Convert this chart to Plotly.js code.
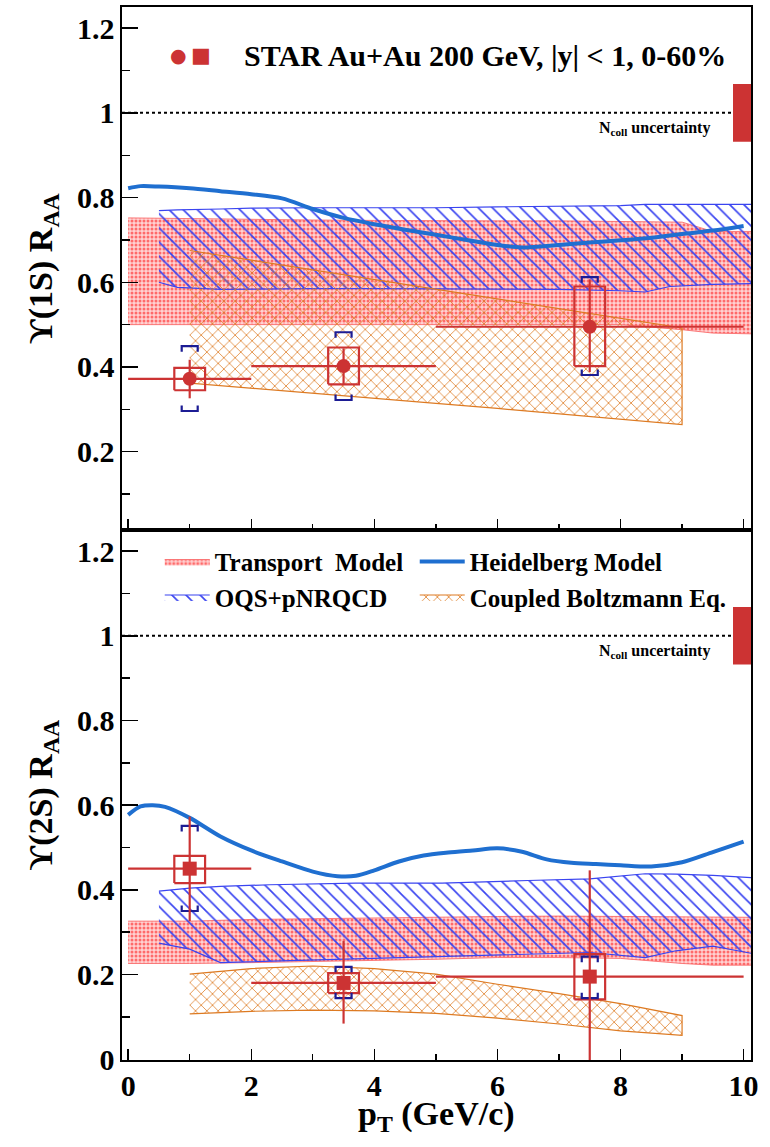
<!DOCTYPE html>
<html><head><meta charset="utf-8">
<script src="https://cdn.plot.ly/plotly-3.0.1.min.js"></script>
<style>html,body{margin:0;padding:0;background:#fff}</style>
</head><body><div id="chart" style="width:770px;height:1147px"></div>
<script>
// ---------------- data ----------------
const pT = [1, 3.5, 7.5];
const pTHalfBin = [1, 1.5, 2.5];

// Upsilon(1S)
const raa1S = [0.372, 0.402, 0.495];
const stat1SUp = [0.045, 0.042, 0.112];
const stat1SDown = [0.046, 0.042, 0.107];
const sys1SLow = [0.345, 0.359, 0.402];
const sys1SHigh = [0.398, 0.446, 0.590];
const glob1SLow = [0.296, 0.322, 0.381];
const glob1SHigh = [0.449, 0.482, 0.612];

// Upsilon(2S)
const raa2S = [0.450, 0.180, 0.195];
const stat2SUp = [0.123, 0.099, 0.251];
const stat2SDown = [0.124, 0.096, 0.250];
const sys2SLow = [0.416, 0.156, 0.141];
const sys2SHigh = [0.480, 0.203, 0.248];
const glob2SLow = [0.350, 0.144, 0.144];
const glob2SHigh = [0.551, 0.218, 0.242];

const nCollUnc = [0.068];
const unity = [1];

// Transport model bands
const trX = [0, 1, 2, 3, 4, 5, 6, 7, 8, 9, 9.5, 10.2];
const tr1SHigh = [0.752, 0.750, 0.748, 0.747, 0.746, 0.745, 0.745, 0.745, 0.744, 0.742, 0.720, 0.720];
const tr1SLow  = [0.500, 0.500, 0.500, 0.500, 0.500, 0.500, 0.500, 0.500, 0.500, 0.488, 0.480, 0.478];
const tr2SHigh = [0.326, 0.326, 0.330, 0.332, 0.333, 0.335, 0.337, 0.338, 0.337, 0.335, 0.335, 0.335];
const tr2SLow  = [0.226, 0.226, 0.228, 0.230, 0.233, 0.236, 0.240, 0.240, 0.238, 0.226, 0.222, 0.222];

// OQS+pNRQCD bands
const oqs1SX = [0.5, 0.8, 1.5, 2, 3, 4, 5, 6, 7, 8, 8.4, 8.8, 9.5, 10.2];
const oqs1SHigh = [0.769, 0.771, 0.773, 0.775, 0.776, 0.776, 0.776, 0.778, 0.779, 0.781, 0.784, 0.784, 0.784, 0.784];
const oqs1SLow  = [0.600, 0.588, 0.583, 0.584, 0.585, 0.585, 0.585, 0.584, 0.583, 0.580, 0.577, 0.590, 0.595, 0.597];
const oqs2SX = [0.5, 1, 1.5, 2.3, 3.7, 5.1, 6.5, 7.5, 8.4, 8.9, 9.5, 10.2];
const oqs2SHigh = [0.397, 0.404, 0.408, 0.412, 0.416, 0.416, 0.422, 0.426, 0.438, 0.437, 0.434, 0.428];
const oqs2SLow  = [0.274, 0.260, 0.228, 0.232, 0.238, 0.242, 0.248, 0.252, 0.240, 0.256, 0.267, 0.248];

// Coupled Boltzmann bands
const cbX = [1, 2, 3, 4, 5, 6, 7, 8, 9];
const cb1SHigh = [0.675, 0.652, 0.630, 0.607, 0.584, 0.561, 0.538, 0.515, 0.492];
const cb1SLow  = [0.362, 0.350, 0.338, 0.326, 0.314, 0.302, 0.290, 0.277, 0.264];
const cb2SHigh = [0.201, 0.214, 0.220, 0.214, 0.201, 0.177, 0.155, 0.131, 0.103];
const cb2SLow  = [0.107, 0.113, 0.116, 0.114, 0.108, 0.097, 0.083, 0.067, 0.056];

// Heidelberg model
const heid1SX = [0, 0.2, 0.5, 1, 1.5, 2, 2.5, 3, 3.5, 4, 4.5, 5, 5.5, 6, 6.4, 7, 7.5, 8, 8.5, 9, 9.5, 10];
const heid1S  = [0.822, 0.827, 0.826, 0.822, 0.815, 0.808, 0.798, 0.773, 0.752, 0.737, 0.724, 0.712, 0.700, 0.688, 0.682, 0.688, 0.694, 0.699, 0.705, 0.714, 0.722, 0.733];
const heid2SX = [0, 0.2, 0.4, 0.6, 1, 1.5, 2, 2.5, 3, 3.4, 3.7, 4, 4.4, 4.8, 5.2, 5.6, 6, 6.4, 6.8, 7.2, 7.6, 8, 8.5, 9, 9.5, 10];
const heid2S  = [0.577, 0.597, 0.600, 0.596, 0.570, 0.526, 0.493, 0.467, 0.443, 0.432, 0.433, 0.446, 0.467, 0.481, 0.488, 0.493, 0.498, 0.490, 0.472, 0.464, 0.461, 0.458, 0.455, 0.465, 0.489, 0.514];

// ---------------- styling ----------------
const FONT = 'Liberation Serif';
const RED = '#cc3333';
const NAVY = '#1c1c94';
const BLUE = '#1f6fd0';
const HATCHBLUE = '#3a44f0';
const ORANGE = '#dd7a22';
const boxHalf = 0.25, brHalf = 0.13, brLeg = 0.013;

function band(xs, hi, lo) {
  return { x: xs.concat(xs.slice().reverse()), y: hi.concat(lo.slice().reverse()) };
}
function boxes(lo, hi) {
  const x = [], y = [];
  pT.forEach((p, i) => {
    x.push(p - boxHalf, p + boxHalf, p + boxHalf, p - boxHalf, p - boxHalf, null);
    y.push(lo[i], lo[i], hi[i], hi[i], lo[i], null);
  });
  return { x, y };
}
function brackets(lo, hi) {
  const x = [], y = [];
  pT.forEach((p, i) => {
    x.push(p - brHalf, p - brHalf, p + brHalf, p + brHalf, null);
    y.push(hi[i] - brLeg, hi[i], hi[i], hi[i] - brLeg, null);
    x.push(p - brHalf, p - brHalf, p + brHalf, p + brHalf, null);
    y.push(lo[i] + brLeg, lo[i], lo[i], lo[i] + brLeg, null);
  });
  return { x, y };
}

function panelTraces(xa, ya, d, showLeg, symbol) {
  const t = [];
  const tb = band(trX, d.trHi, d.trLo);
  t.push({ x: tb.x, y: tb.y, xaxis: xa, yaxis: ya, type: 'scatter', mode: 'lines', fill: 'toself',
    name: 'Transport  Model', legend: 'legend', legendrank: 1, showlegend: showLeg,
    line: { color: 'rgba(250,110,110,0.9)', width: 1 },
    fillcolor: 'rgba(255,190,190,0.85)',
    fillpattern: { shape: '.', fgcolor: '#ff6a6a', bgcolor: 'rgba(255,205,205,0.9)', size: 4, solidity: 0.45 },
    hoverinfo: 'skip' });
  const ob = band(d.oqsX, d.oqsHi, d.oqsLo);
  t.push({ x: ob.x, y: ob.y, xaxis: xa, yaxis: ya, type: 'scatter', mode: 'lines', fill: 'toself',
    name: 'OQS+pNRQCD', legend: 'legend', legendrank: 2, showlegend: showLeg,
    line: { color: HATCHBLUE, width: 1.2 },
    fillcolor: 'rgba(0,0,0,0)',
    fillpattern: { shape: '\\', fgcolor: HATCHBLUE, bgcolor: 'rgba(0,0,0,0)', size: 10, solidity: 0.17 },
    hoverinfo: 'skip' });
  const cb = band(cbX, d.cbHi, d.cbLo);
  t.push({ x: cb.x, y: cb.y, xaxis: xa, yaxis: ya, type: 'scatter', mode: 'lines', fill: 'toself',
    name: 'Coupled Boltzmann Eq.', legend: 'legend2', legendrank: 2, showlegend: showLeg,
    line: { color: ORANGE, width: 1.2 },
    fillcolor: 'rgba(0,0,0,0)',
    fillpattern: { shape: 'x', fgcolor: ORANGE, bgcolor: 'rgba(0,0,0,0)', size: 8, solidity: 0.18 },
    hoverinfo: 'skip' });
  t.push({ x: d.heidX, y: d.heid, xaxis: xa, yaxis: ya, type: 'scatter', mode: 'lines',
    name: 'Heidelberg Model', legend: 'legend2', legendrank: 1, showlegend: showLeg,
    line: { color: BLUE, width: 4, shape: 'spline', smoothing: 0.8 }, hoverinfo: 'skip' });
  const bx = boxes(d.sysLo, d.sysHi);
  t.push({ x: bx.x, y: bx.y, xaxis: xa, yaxis: ya, type: 'scatter', mode: 'lines', showlegend: false,
    line: { color: RED, width: 2.2 }, hoverinfo: 'skip' });
  const br = brackets(d.gLo, d.gHi);
  t.push({ x: br.x, y: br.y, xaxis: xa, yaxis: ya, type: 'scatter', mode: 'lines', showlegend: false,
    line: { color: NAVY, width: 2.2 }, hoverinfo: 'skip' });
  t.push({ x: pT, y: d.raa, xaxis: xa, yaxis: ya, type: 'scatter', mode: 'markers', showlegend: false,
    marker: { symbol: symbol, size: 14, color: RED },
    error_x: { type: 'data', array: pTHalfBin, width: 0, thickness: 2.2, color: RED },
    error_y: { type: 'data', symmetric: false, array: d.sUp, arrayminus: d.sDn, width: 0, thickness: 2.2, color: RED },
    hoverinfo: 'skip' });
  return t;
}

const topTraces = panelTraces('x2', 'y2', {
  trHi: tr1SHigh, trLo: tr1SLow, oqsX: oqs1SX, oqsHi: oqs1SHigh, oqsLo: oqs1SLow,
  cbHi: cb1SHigh, cbLo: cb1SLow, heidX: heid1SX, heid: heid1S,
  sysLo: sys1SLow, sysHi: sys1SHigh, gLo: glob1SLow, gHi: glob1SHigh,
  raa: raa1S, sUp: stat1SUp, sDn: stat1SDown }, false, 'circle');
const botTraces = panelTraces('x', 'y', {
  trHi: tr2SHigh, trLo: tr2SLow, oqsX: oqs2SX, oqsHi: oqs2SHigh, oqsLo: oqs2SLow,
  cbHi: cb2SHigh, cbLo: cb2SLow, heidX: heid2SX, heid: heid2S,
  sysLo: sys2SLow, sysHi: sys2SHigh, gLo: glob2SLow, gHi: glob2SHigh,
  raa: raa2S, sUp: stat2SUp, sDn: stat2SDown }, true, 'square');

const tickFont = { family: FONT, size: 30, weight: 'bold', color: '#000' };
const axisCommon = {
  showgrid: false, zeroline: false, showline: true, mirror: true, linecolor: '#000', linewidth: 1.6,
  ticks: 'inside', tickcolor: '#000', tickwidth: 1.4, tickfont: tickFont
};
const splitFrac = 530 / 1053;

const xBase = Object.assign({}, axisCommon, {
  range: [-0.1, 10.12], tick0: 0, dtick: 2, ticklen: 11,
  minor: { dtick: 1, tick0: 0, ticklen: 6, ticks: 'inside', tickcolor: '#000', tickwidth: 1.4 }
});
const yBase = Object.assign({}, axisCommon, {
  tick0: 0, dtick: 0.2, ticklen: 16,
  minor: { dtick: 0.1, tick0: 0, ticklen: 8, ticks: 'inside', tickcolor: '#000', tickwidth: 1.4 }
});
const legendCommon = {
  orientation: 'v', yanchor: 'top', xanchor: 'left', itemwidth: 45,
  bgcolor: 'rgba(0,0,0,0)', borderwidth: 0, traceorder: 'normal',
  font: { family: FONT, size: 25, weight: 'bold', color: '#000' }
};
const titleFont = { family: FONT, size: 34, weight: 'bold', color: '#000' };

const layout = {
  width: 770, height: 1147,
  margin: { l: 122, r: 19, t: 7, b: 87 },
  paper_bgcolor: '#fff', plot_bgcolor: '#fff',
  showlegend: true,
  xaxis: Object.assign({}, xBase, { anchor: 'y', domain: [0, 1], ticklabelstandoff: -2 }),
  xaxis2: Object.assign({}, xBase, { anchor: 'y2', domain: [0, 1], matches: 'x', showticklabels: false }),
  yaxis: Object.assign({}, yBase, { anchor: 'x', domain: [0, splitFrac], range: [-0.002, 1.25],
    title: { text: 'ϒ(2S) R<sub>AA</sub>', font: titleFont, standoff: 14 } }),
  yaxis2: Object.assign({}, yBase, { anchor: 'x2', domain: [splitFrac, 1], range: [0.015, 1.25],
    title: { text: 'ϒ(1S) R<sub>AA</sub>', font: titleFont, standoff: 14 } }),
  legend: Object.assign({}, legendCommon, { x: 0.06, y: 0.495 }),
  legend2: Object.assign({}, legendCommon, { x: 0.4654, y: 0.495 }),
  shapes: [
    { type: 'line', xref: 'x2 domain', yref: 'y2', x0: 0, x1: 0.9714, y0: unity[0], y1: unity[0],
      line: { color: '#000', width: 2, dash: 'dot' } },
    { type: 'rect', xref: 'x2 domain', yref: 'y2', x0: 0.9714, x1: 1, y0: unity[0] - nCollUnc[0], y1: unity[0] + nCollUnc[0],
      fillcolor: RED, line: { width: 0 } },
    { type: 'line', xref: 'x domain', yref: 'y', x0: 0, x1: 0.9714, y0: unity[0], y1: unity[0],
      line: { color: '#000', width: 2, dash: 'dot' } },
    { type: 'rect', xref: 'x domain', yref: 'y', x0: 0.9714, x1: 1, y0: unity[0] - nCollUnc[0], y1: unity[0] + nCollUnc[0],
      fillcolor: RED, line: { width: 0 } }
  ],
  annotations: [
    { xref: 'x domain', yref: 'paper', x: 0.5, y: -0.053, xanchor: 'center', yanchor: 'middle', showarrow: false,
      text: 'p<sub>T</sub> (GeV/c)', font: titleFont },
    { xref: 'x2 domain', yref: 'y2 domain', x: 0.19, y: 0.908, xanchor: 'left', yanchor: 'middle', showarrow: false,
      text: 'STAR Au+Au 200 GeV, |y| < 1, 0-60%', font: { family: FONT, size: 30, weight: 'bold', color: '#000' } },
    { xref: 'x2 domain', yref: 'y2 domain', x: 0.09, y: 0.908, xanchor: 'center', yanchor: 'middle', showarrow: false,
      text: '●', font: { family: 'DejaVu Sans', size: 19, color: RED } },
    { xref: 'x2 domain', yref: 'y2 domain', x: 0.125, y: 0.908, xanchor: 'center', yanchor: 'middle', showarrow: false,
      text: '■', font: { family: 'DejaVu Sans', size: 21, color: RED } },
    { xref: 'x2 domain', yref: 'y2 domain', x: 0.9385, y: 0.768, xanchor: 'right', yanchor: 'middle', showarrow: false,
      text: 'N<sub>coll</sub> uncertainty', font: { family: FONT, size: 16, weight: 'bold', color: '#000' } },
    { xref: 'x domain', yref: 'y domain', x: 0.9385, y: 0.770, xanchor: 'right', yanchor: 'middle', showarrow: false,
      text: 'N<sub>coll</sub> uncertainty', font: { family: FONT, size: 16, weight: 'bold', color: '#000' } }
  ]
};

Plotly.newPlot('chart', topTraces.concat(botTraces), layout, { staticPlot: true, displayModeBar: false });
</script></body></html>
